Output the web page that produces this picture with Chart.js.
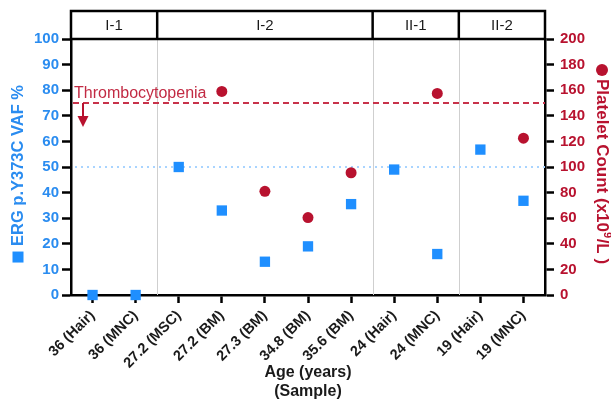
<!DOCTYPE html>
<html>
<head>
<meta charset="utf-8">
<script src="https://cdn.jsdelivr.net/npm/chart.js@4/dist/chart.umd.min.js"></script>
<style>
  html, body { margin: 0; padding: 0; background: #fff; }
  #wrap { width: 611px; height: 401px; }
</style>
</head>
<body>
<div id="wrap"><canvas id="chart" width="611" height="401"></canvas></div>
<script>
// ---- data ----
const SAMPLES = [
  "36 (Hair)", "36 (MNC)", "27.2 (MSC)", "27.2 (BM)", "27.3 (BM)",
  "34.8 (BM)", "35.6 (BM)", "24 (Hair)", "24 (MNC)", "19 (Hair)", "19 (MNC)"
];
const VAF = [0, 0, 50, 33, 13, 19, 35.5, 49, 16, 56.8, 36.8];
const PLATELETS = [null, null, null, 159, 81, 60.5, 95.5, null, 157.5, null, 122.5];

// family groups: label + first/last sample index
const GROUP_LABELS = ["I-1", "I-2", "II-1", "II-2"];
const GROUP_START = [0, 2, 7, 9];
const GROUP_END = [1, 6, 8, 10];

const VAF_TICKS = [0, 100, 10];        // min, max, step
const PLT_TICKS = [0, 200, 20];
const PLT_THRESHOLD = 150;             // thrombocytopenia cut-off
const VAF_REF = 50;                    // heterozygous reference

const VAF_TITLE = "ERG p.Y373C VAF %";
const PLT_TITLE = ["Platelet Count (x10", "9", "/L )"];   // middle part is superscript

const BLUE = "#1f8fff";
const BLUE_TXT = "#2a8cf0";
const RED = "#b8122f";
const INK = "#1a1a1a";
const FONT = "'Liberation Sans', Arial, sans-serif";

// left / right edge of a sample slot on the category axis
function slotEdge(x, i, side) {
  const a = x.getPixelForValue(i);
  const step = x.getPixelForValue(1) - x.getPixelForValue(0);
  return a + side * step / 2;
}

const annotations = {
  id: "annotations",
  beforeDatasetsDraw(chart) {
    const { ctx, chartArea: ca, scales } = chart;
    const x = scales.x, y = scales.y, y1 = scales.y1;
    ctx.save();

    // group separators
    ctx.strokeStyle = "#cfcfcf";
    ctx.lineWidth = 1;
    for (let g = 0; g < GROUP_END.length - 1; g++) {
      const px = Math.round(slotEdge(x, GROUP_END[g], 1)) + 0.5;
      ctx.beginPath();
      ctx.moveTo(px, ca.top);
      ctx.lineTo(px, ca.bottom);
      ctx.stroke();
    }

    // 50% VAF reference
    const yRef = y.getPixelForValue(VAF_REF);
    ctx.strokeStyle = "#a9d4ff";
    ctx.lineWidth = 2;
    ctx.setLineDash([2, 4]);
    ctx.beginPath();
    ctx.moveTo(ca.left + 4, yRef);
    ctx.lineTo(ca.right, yRef);
    ctx.stroke();

    // thrombocytopenia threshold
    const yThr = y1.getPixelForValue(PLT_THRESHOLD);
    ctx.strokeStyle = "#c8324a";
    ctx.setLineDash([6, 4]);
    ctx.beginPath();
    ctx.moveTo(ca.left + 2, yThr);
    ctx.lineTo(ca.right, yThr);
    ctx.stroke();
    ctx.setLineDash([]);

    ctx.fillStyle = "#c22a43";
    ctx.font = "16px " + FONT;
    ctx.textAlign = "left";
    ctx.textBaseline = "alphabetic";
    ctx.fillText("Thrombocytopenia", ca.left + 3, yThr - 5);

    // arrow pointing below the threshold
    const ax = ca.left + 12;
    ctx.strokeStyle = RED;
    ctx.fillStyle = RED;
    ctx.lineWidth = 2;
    ctx.beginPath();
    ctx.moveTo(ax, yThr);
    ctx.lineTo(ax, yThr + 15);
    ctx.stroke();
    ctx.beginPath();
    ctx.moveTo(ax - 5.5, yThr + 13);
    ctx.lineTo(ax + 5.5, yThr + 13);
    ctx.lineTo(ax, yThr + 24);
    ctx.closePath();
    ctx.fill();
    ctx.restore();
  },
  afterDraw(chart) {
    const { ctx, chartArea: ca, scales } = chart;
    const x = scales.x;
    const top = 11, bottom = ca.top;
    ctx.save();

    // group header row
    ctx.strokeStyle = "#000";
    ctx.lineWidth = 2.5;
    ctx.strokeRect(ca.left, top, ca.right - ca.left, bottom - top);
    ctx.font = "15px " + FONT;
    ctx.fillStyle = INK;
    ctx.textAlign = "center";
    ctx.textBaseline = "middle";
    GROUP_LABELS.forEach((lab, g) => {
      const l = g === 0 ? ca.left : slotEdge(x, GROUP_START[g], -1);
      const r = g === GROUP_LABELS.length - 1 ? ca.right : slotEdge(x, GROUP_END[g], 1);
      if (g > 0) {
        ctx.beginPath();
        ctx.moveTo(l, top);
        ctx.lineTo(l, bottom);
        ctx.stroke();
      }
      ctx.fillText(lab, (l + r) / 2, (top + bottom) / 2 + 1);
    });

    // left title with its square symbol
    const midY = (ca.top + ca.bottom) / 2;
    ctx.save();
    ctx.translate(18, midY - 1.5);
    ctx.rotate(-Math.PI / 2);
    ctx.fillStyle = BLUE_TXT;
    ctx.font = "bold 16.5px " + FONT;
    ctx.textAlign = "center";
    ctx.textBaseline = "middle";
    ctx.fillText(VAF_TITLE, 0, 0);
    const tw = ctx.measureText(VAF_TITLE).width;
    ctx.fillStyle = BLUE;
    ctx.fillRect(-tw / 2 - 16.5, -5.5, 11, 11);
    ctx.restore();

    // right title with its dot symbol, 10^9 set as superscript
    ctx.save();
    ctx.translate(602, ca.top + 31);
    ctx.rotate(Math.PI / 2);
    ctx.fillStyle = RED;
    ctx.beginPath();
    ctx.arc(0, 0, 6, 0, Math.PI * 2);
    ctx.fill();
    ctx.textAlign = "left";
    ctx.textBaseline = "middle";
    let cx = 9;
    PLT_TITLE.forEach((part, i) => {
      const sup = i === 1;
      ctx.font = (sup ? "bold 11px " : "bold 17px ") + FONT;
      ctx.fillText(part, cx, sup ? -5 : 0);
      cx += ctx.measureText(part).width + (sup ? 0.5 : 0);
    });
    ctx.restore();

    ctx.restore();
  }
};

const axisLine = { color: "#000", width: 2.5 };
const axisTicks = (len) => ({
  drawOnChartArea: false, drawTicks: true, tickLength: len,
  tickColor: "#000", tickWidth: 2.5
});

new Chart(document.getElementById("chart"), {
  type: "line",
  data: {
    labels: SAMPLES,
    datasets: [
      {
        label: "ERG p.Y373C VAF %",
        data: VAF,
        yAxisID: "y",
        showLine: false,
        pointStyle: "rect",
        pointRadius: 7.3,
        pointHoverRadius: 7.3,
        backgroundColor: BLUE,
        borderColor: BLUE,
        borderWidth: 0,
        clip: false,
      },
      {
        label: "Platelet Count",
        data: PLATELETS,
        yAxisID: "y1",
        showLine: false,
        pointStyle: "circle",
        pointRadius: 5.5,
        pointHoverRadius: 5.5,
        backgroundColor: RED,
        borderColor: RED,
        borderWidth: 0,
        clip: false,
      },
    ],
  },
  options: {
    responsive: false,
    animation: false,
    devicePixelRatio: 1,
    layout: { padding: { top: 39, left: 0, right: 0, bottom: 0 } },
    plugins: { legend: { display: false }, tooltip: { enabled: false } },
    scales: {
      x: {
        type: "category",
        offset: true,
        border: axisLine,
        grid: axisTicks(8),
        ticks: {
          color: INK, font: { family: FONT, size: 14.5, weight: "bold" },
          maxRotation: 45, minRotation: 45, padding: 4, autoSkip: false,
        },
        title: {
          display: true, text: ["Age (years)", "(Sample)"], color: INK,
          font: { family: FONT, size: 16, weight: "bold" },
          padding: { top: 0, bottom: 0 },
        },
        afterFit: (s) => { s.height = 106; },
      },
      y: {
        position: "left",
        min: VAF_TICKS[0], max: VAF_TICKS[1],
        border: axisLine,
        grid: axisTicks(9),
        ticks: {
          stepSize: VAF_TICKS[2], color: BLUE_TXT, padding: 3,
          font: { family: FONT, size: 15, weight: "bold" },
        },
        afterFit: (s) => { s.width = 71; },
      },
      y1: {
        position: "right",
        min: PLT_TICKS[0], max: PLT_TICKS[1],
        border: axisLine,
        grid: axisTicks(9),
        ticks: {
          stepSize: PLT_TICKS[2], color: RED, padding: 6,
          font: { family: FONT, size: 15, weight: "bold" },
        },
        afterFit: (s) => { s.width = 66; },
      },
    },
  },
  plugins: [annotations],
});
</script>
</body>
</html>
